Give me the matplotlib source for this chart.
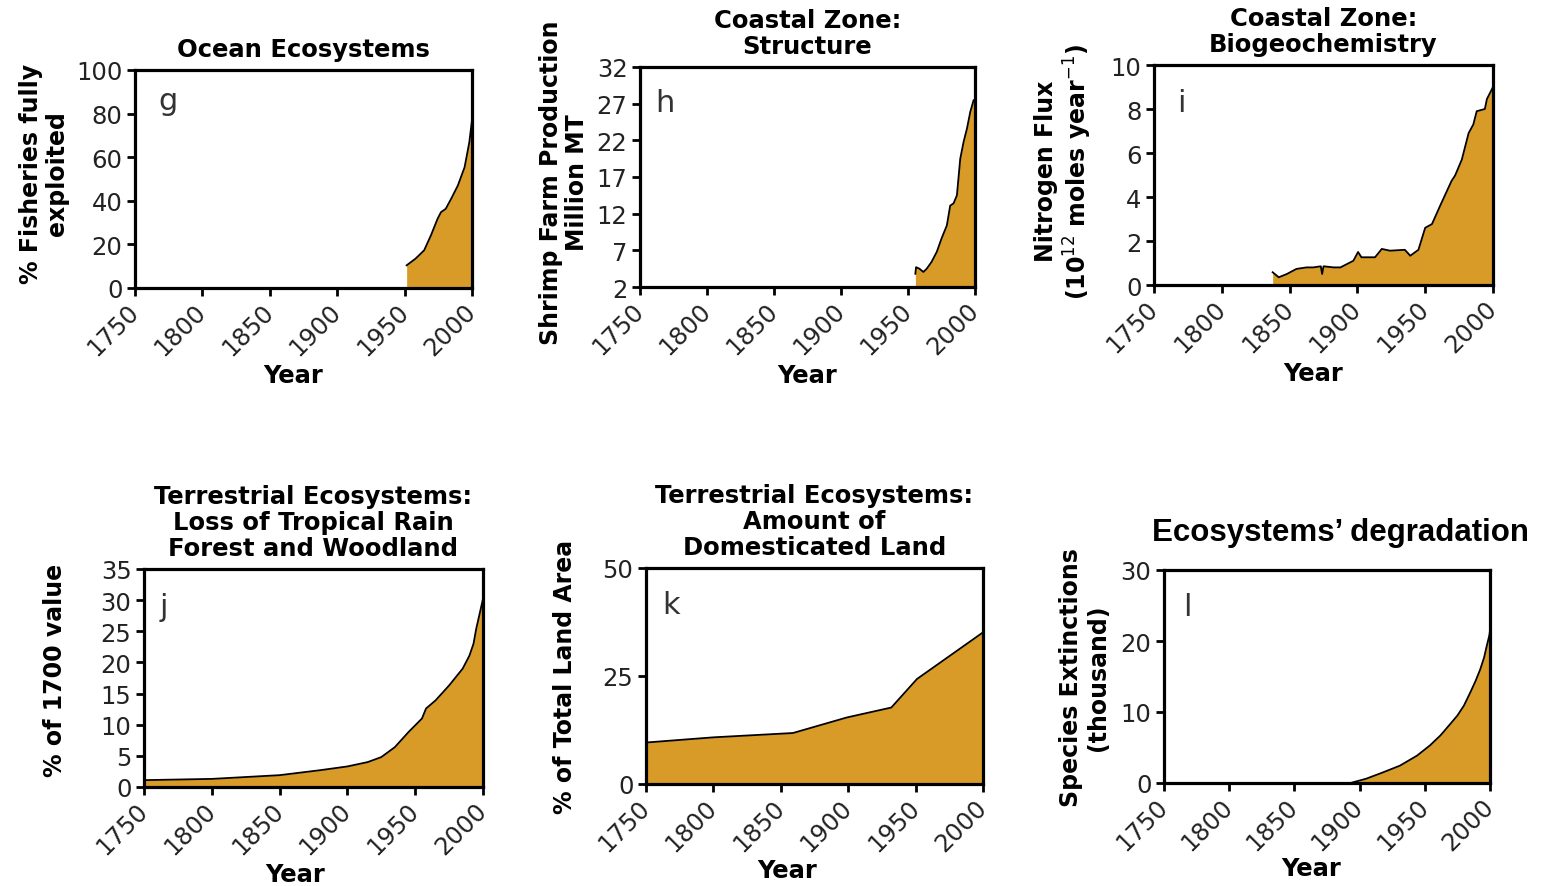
import matplotlib
matplotlib.use("Agg")
import matplotlib.pyplot as plt

FILL = '#d99b28'
YEAR_TICKS = [1750, 1800, 1850, 1900, 1950, 2000]

# g: ocean ecosystems, % fisheries fully exploited
g_year = [1951.5, 1958, 1964.5, 1969.5, 1974.5, 1977, 1980.5, 1984.5, 1989.5, 1994.5, 1998, 2000]
g_val = [10.4, 13.4, 17.3, 24.1, 31.8, 34.8, 36.3, 40.9, 47.0, 55.4, 66.8, 77.0]

# h: shrimp farm production (million MT)
h_year = [1955.5, 1956, 1958.5, 1961.5, 1964, 1967.5, 1971.5, 1975, 1979, 1981.5, 1984, 1986.5,
          1989, 1991.5, 1994, 1996.5, 1999, 2000]
h_val = [3.8, 4.7, 4.5, 4.05, 4.5, 5.4, 6.8, 8.6, 10.4, 13.1, 13.4, 14.5,
         19.5, 21.8, 23.6, 25.9, 27.5, 27.2]

# i: nitrogen flux (10^12 moles / year)
i_year = [1837.5, 1842, 1848, 1855, 1862.5, 1867.5, 1873, 1874, 1875, 1882.5, 1887.5,
          1897, 1900.5, 1903, 1913, 1918, 1924, 1935, 1939, 1945, 1950, 1955,
          1961, 1969.5, 1972, 1977, 1982, 1985.5, 1988, 1994, 1995.5, 2000]
i_val = [0.58, 0.35, 0.5, 0.73, 0.8, 0.8, 0.85, 0.5, 0.85, 0.8, 0.8,
         1.1, 1.5, 1.26, 1.26, 1.64, 1.56, 1.6, 1.33, 1.6, 2.6, 2.77,
         3.6, 4.74, 4.97, 5.7, 6.9, 7.3, 7.9, 8.0, 8.45, 9.0]

# j: loss of tropical rain forest and woodland (% of 1700 value)
j_year = [1750, 1800, 1850, 1880, 1900, 1915, 1925, 1935, 1945, 1955, 1958, 1965, 1975,
          1985, 1990, 1993, 1995, 2000]
j_val = [1.1, 1.3, 1.9, 2.7, 3.3, 4.0, 4.8, 6.4, 8.8, 11.0, 12.6, 13.9, 16.3,
         19.0, 21.1, 23.0, 25.4, 30.2]

# k: domesticated land (% of total land area)
k_year = [1750, 1800, 1859, 1899, 1932, 1951, 2000]
k_val = [9.6, 10.8, 11.8, 15.4, 17.7, 24.3, 35.1]

# l: species extinctions (thousand)
l_year = [1893, 1905, 1918, 1931, 1944, 1954, 1962, 1969, 1975, 1980, 1985, 1989, 1992.5, 1995.5, 1997.5, 1999.5, 2000]
l_val = [0.0, 0.6, 1.5, 2.45, 3.85, 5.3, 6.7, 8.2, 9.5, 10.9, 12.8, 14.4, 16.0, 17.7, 19.3, 20.8, 21.5]

W, H = 1541, 887


def make_axes(fig, left, top, right, bottom):
    return fig.add_axes([left / W, 1 - bottom / H, (right - left) / W, (bottom - top) / H])


def plot_panel(ax, years, vals, ylim, yticks, letter, letter_pos, title, ylabel, ylabel_pos, xlabel_x):
    base = ylim[0]
    ax.fill_between(years, base, vals, color=FILL, lw=0, zorder=1)
    ax.plot(years, vals, color='black', lw=1.3, zorder=2)
    ax.set_xlim(1750, 2000)
    ax.set_ylim(*ylim)
    ax.set_xticks(YEAR_TICKS)
    ax.set_yticks(yticks)
    ax.set_xticklabels([str(y) for y in YEAR_TICKS], rotation=45, ha='right', va='center',
                       rotation_mode='anchor')
    for s in ax.spines.values():
        s.set_linewidth(2.3)
    ax.tick_params(direction='out', length=6, width=2, labelsize=17.5, labelcolor='#222222', pad=3)
    ax.tick_params(axis='x', pad=8)
    ax.text(letter_pos[0], letter_pos[1], letter, transform=ax.transAxes, fontsize=22,
            color='#333333', va='baseline', ha='left')
    if title:
        ax.set_title(title, fontsize=17.5, fontweight='bold', pad=10, linespacing=1.12)
    ax.set_ylabel(ylabel, fontsize=17, fontweight='bold', linespacing=1.15, va='center')
    ax.yaxis.set_label_coords(*ylabel_pos)
    ax.set_xlabel('Year', fontsize=17.5, fontweight='bold', va='center')
    ax.xaxis.set_label_coords(xlabel_x, -0.4)


def main():
    fig = plt.figure(figsize=(W / 100, H / 100), dpi=100)

    ax = make_axes(fig, 135, 71, 472, 289)
    plot_panel(ax, g_year, g_val, (0, 100), [0, 20, 40, 60, 80, 100], 'g', (0.07, 0.82),
               'Ocean Ecosystems', '% Fisheries fully\nexploited', (-0.27, 0.53), 0.47)

    ax = make_axes(fig, 640, 68, 975, 288)
    plot_panel(ax, h_year, h_val, (2, 32), [2, 7, 12, 17, 22, 27, 32], 'h', (0.045, 0.8),
               'Coastal Zone:\nStructure', 'Shrimp Farm Production\nMillion MT', (-0.227, 0.48), 0.5)

    ax = make_axes(fig, 1154, 66, 1493, 286)
    plot_panel(ax, i_year, i_val, (0, 10), [0, 2, 4, 6, 8, 10], 'i', (0.068, 0.79),
               'Coastal Zone:\nBiogeochemistry',
               'Nitrogen Flux\n(10$^{12}$ moles year$^{-1}$)', (-0.265, 0.52), 0.47)

    ax = make_axes(fig, 144, 570, 483, 788)
    plot_panel(ax, j_year, j_val, (0, 35), [0, 5, 10, 15, 20, 25, 30, 35], 'j', (0.047, 0.79),
               'Terrestrial Ecosystems:\nLoss of Tropical Rain\nForest and Woodland',
               '% of 1700 value', (-0.263, 0.54), 0.445)

    ax = make_axes(fig, 646, 569, 983, 785)
    plot_panel(ax, k_year, k_val, (0, 50), [0, 25, 50], 'k', (0.047, 0.79),
               'Terrestrial Ecosystems:\nAmount of\nDomesticated Land',
               '% of Total Land Area', (-0.24, 0.5), 0.42)

    ax = make_axes(fig, 1164, 571, 1490, 784)
    plot_panel(ax, l_year, l_val, (0, 30), [0, 10, 20, 30], 'l', (0.06, 0.79),
               None, 'Species Extinctions\n(thousand)', (-0.245, 0.5), 0.45)

    fig.text(1341 / W, 1 - 533 / H, 'Ecosystems\u2019 degradation', fontsize=22.5, fontweight='bold',
             family=['Liberation Sans', 'DejaVu Sans'], ha='center', va='center')

    fig.savefig('out.png', dpi=100)


if __name__ == "__main__":
    main()
